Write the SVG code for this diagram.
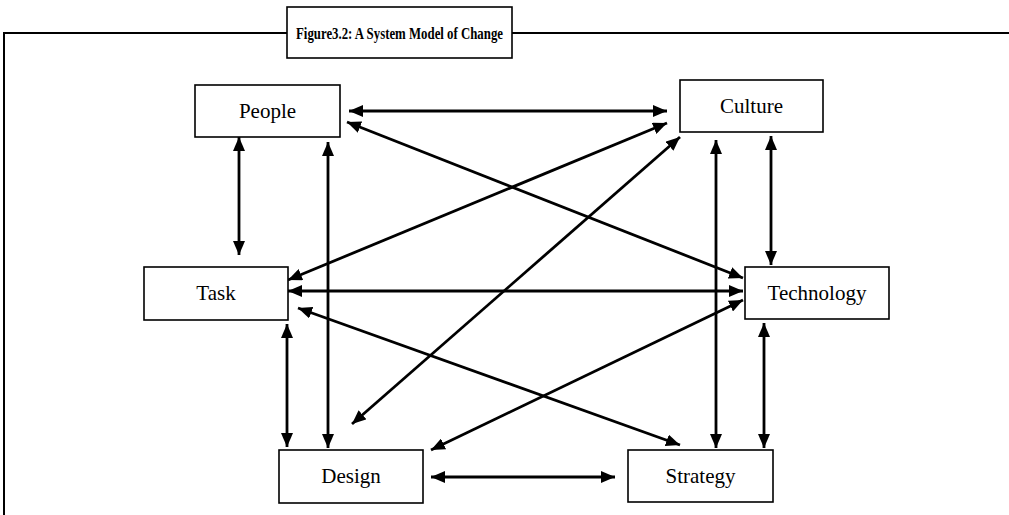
<svg xmlns="http://www.w3.org/2000/svg" width="1009" height="515" viewBox="0 0 1009 515">
<defs>
<marker id="ah" markerUnits="userSpaceOnUse" markerWidth="14" markerHeight="12" refX="14" refY="6" orient="auto-start-reverse"><path d="M0,0 L14,6 L0,12 z" fill="#000"/></marker>
<style>
.box{fill:#fff;stroke:#000;stroke-width:1.6}
.lbl{font-family:"Liberation Serif","DejaVu Serif",serif;font-size:21px;fill:#000;text-anchor:middle}
.ttl{font-family:"Liberation Serif","DejaVu Serif",serif;font-size:17px;font-weight:bold;fill:#000;text-anchor:middle}
.arr{stroke:#000;stroke-width:2.8;fill:none;marker-start:url(#ah);marker-end:url(#ah)}
.frame{stroke:#000;stroke-width:2;fill:none}
</style>
</defs>
<rect width="1009" height="515" fill="#fff"/>
<g id="frame">
<path class="frame" d="M4,515 L4,33 L287,33 M512,33 L1009,33"/>
</g>
<g id="title">
<rect class="box" x="287" y="7" width="225" height="51"/>
<text class="ttl" x="399.5" y="39" textLength="207" lengthAdjust="spacingAndGlyphs">Figure3.2: A System Model of Change</text>
</g>
<g id="connectors">
<line class="arr" x1="349" y1="111" x2="667" y2="111"/>
<line class="arr" x1="239" y1="137" x2="239" y2="255"/>
<line class="arr" x1="328" y1="142" x2="328" y2="448"/>
<line class="arr" x1="347" y1="122" x2="743" y2="278"/>
<line class="arr" x1="667" y1="123" x2="288" y2="280"/>
<line class="arr" x1="680" y1="137" x2="352" y2="424"/>
<line class="arr" x1="716" y1="140" x2="716" y2="448"/>
<line class="arr" x1="771" y1="136" x2="771" y2="265"/>
<line class="arr" x1="288" y1="291" x2="743" y2="291"/>
<line class="arr" x1="298" y1="308" x2="680" y2="445"/>
<line class="arr" x1="287" y1="324" x2="287" y2="447"/>
<line class="arr" x1="743" y1="300" x2="431" y2="450"/>
<line class="arr" x1="764" y1="323" x2="764" y2="448"/>
<line class="arr" x1="431" y1="477" x2="615" y2="477"/>
</g>
<g id="people"><rect class="box" x="195" y="85" width="145" height="52"/><text class="lbl" x="267.5" y="118">People</text></g>
<g id="culture"><rect class="box" x="680" y="80" width="143" height="52"/><text class="lbl" x="751.5" y="113">Culture</text></g>
<g id="task"><rect class="box" x="144" y="267" width="144" height="53"/><text class="lbl" x="216" y="300">Task</text></g>
<g id="technology"><rect class="box" x="745" y="267" width="144" height="52"/><text class="lbl" x="817" y="300">Technology</text></g>
<g id="design"><rect class="box" x="279" y="450" width="144" height="53"/><text class="lbl" x="351" y="483">Design</text></g>
<g id="strategy"><rect class="box" x="628" y="450" width="145" height="52"/><text class="lbl" x="700.5" y="483">Strategy</text></g>
</svg>
